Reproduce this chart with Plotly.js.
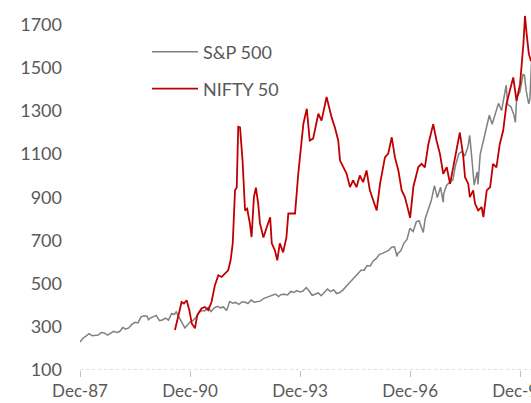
<!DOCTYPE html>
<html>
<head>
<meta charset="utf-8">
<script src="https://cdn.plot.ly/plotly-3.0.1.min.js"></script>
<style>
html,body{margin:0;padding:0;background:#fff;}
#chart{width:531px;height:403px;}
</style>
</head>
<body>
<div id="chart"></div>
<script>
// ---- Data ----
var spDates = ['1987-12-01','1987-12-31','1988-01-29','1988-02-29','1988-03-31','1988-04-29','1988-05-31','1988-06-30','1988-07-29','1988-08-31','1988-09-30','1988-10-31','1988-11-30','1988-12-30',
'1989-01-31','1989-02-28','1989-03-31','1989-04-28','1989-05-31','1989-06-30','1989-07-31','1989-08-31','1989-09-29','1989-10-13','1989-10-31','1989-11-30','1989-12-29',
'1990-01-31','1990-02-28','1990-03-30','1990-04-30','1990-05-31','1990-06-29','1990-07-16','1990-07-31','1990-08-31','1990-09-28','1990-10-11','1990-10-31','1990-11-30','1990-12-31',
'1991-01-31','1991-02-28','1991-03-28','1991-04-30','1991-05-31','1991-06-28','1991-07-31','1991-08-30','1991-09-30','1991-10-31','1991-11-29','1991-12-31',
'1992-01-31','1992-02-28','1992-03-31','1992-04-30','1992-05-29','1992-06-30','1992-07-31','1992-08-31','1992-09-30','1992-10-30','1992-11-30','1992-12-31',
'1993-01-29','1993-02-26','1993-03-31','1993-04-30','1993-05-28','1993-06-30','1993-07-30','1993-08-31','1993-09-30','1993-10-29','1993-11-30','1993-12-31',
'1994-01-31','1994-02-28','1994-03-31','1994-04-29','1994-05-31','1994-06-30','1994-07-29','1994-08-31','1994-09-30','1994-10-31','1994-11-30','1994-12-30',
'1995-01-31','1995-02-28','1995-03-31','1995-04-28','1995-05-31','1995-06-30','1995-07-31','1995-08-31','1995-09-29','1995-10-31','1995-11-30','1995-12-29',
'1996-01-31','1996-02-29','1996-03-29','1996-04-30','1996-05-31','1996-06-28','1996-07-24','1996-07-31','1996-08-30','1996-09-30','1996-10-31','1996-11-29','1996-12-31',
'1997-01-31','1997-02-28','1997-03-31','1997-04-11','1997-04-30','1997-05-30','1997-06-30','1997-07-31','1997-08-29','1997-09-30','1997-10-27','1997-10-31','1997-11-28','1997-12-31',
'1998-01-30','1998-02-27','1998-03-31','1998-04-30','1998-05-29','1998-06-30','1998-07-17','1998-07-31','1998-08-31','1998-09-30','1998-10-08','1998-10-30','1998-11-30','1998-12-31',
'1999-01-29','1999-02-26','1999-03-31','1999-04-30','1999-05-31','1999-06-30','1999-07-16','1999-07-30','1999-08-31','1999-09-30','1999-10-15','1999-10-29','1999-11-30','1999-12-31',
'2000-01-14','2000-01-31','2000-02-25','2000-03-08','2000-03-24','2000-03-31'];
var spValues = [230,247,257,268,259,261,262,274,272,262,272,279,274,278,
297,289,295,310,321,318,346,351,349,333,340,346,353,
329,332,340,331,361,358,369,356,323,306,295,304,322,330,
344,367,375,375,390,371,388,395,388,392,375,417,
409,413,404,415,415,408,424,414,418,419,431,436,
439,443,452,440,450,451,448,464,459,468,462,466,
482,467,446,451,457,444,458,475,463,472,454,459,
470,487,501,515,533,545,562,562,584,582,605,616,
636,640,646,654,669,671,626,640,652,687,705,757,741,
786,791,757,737,801,848,885,954,899,947,877,915,955,970,
980,1049,1102,1112,1091,1134,1187,1121,957,1017,959,1099,1164,1229,
1280,1238,1286,1335,1302,1373,1419,1329,1320,1283,1247,1363,1389,1469,
1465,1394,1333,1355,1527,1499];

var niftyDates = ['1990-07-04','1990-08-05','1990-09-08','1990-10-01','1990-10-28','1990-11-24','1990-12-18',
'1991-01-19','1991-02-11','1991-03-25','1991-04-27','1991-06-01','1991-07-03','1991-08-06','1991-09-09','1991-10-12','1991-11-13','1991-12-16',
'1992-01-09','1992-01-30','1992-02-22','1992-03-10','1992-03-25','1992-04-12','1992-05-07','1992-06-01','1992-06-22','1992-07-19','1992-08-05','1992-08-28','1992-09-17','1992-10-10','1992-10-27','1992-12-01',
'1993-01-03','1993-02-06','1993-02-22','1993-03-25','1993-04-18','1993-05-13','1993-06-15','1993-07-18','1993-08-06','1993-10-12','1993-11-13',
'1994-01-03','1994-02-06','1994-03-07','1994-04-10','1994-06-01','1994-07-03','1994-08-22','1994-10-12','1994-11-13','1994-12-16',
'1995-01-03','1995-02-06','1995-03-09','1995-04-12','1995-05-13','1995-06-16','1995-07-19','1995-08-21','1995-09-24','1995-10-27','1995-12-01',
'1996-01-03','1996-02-06','1996-03-25','1996-04-27','1996-06-01','1996-07-03','1996-08-06','1996-09-08','1996-10-10','1996-11-13','1996-12-01',
'1997-01-03','1997-02-21','1997-03-25','1997-04-27','1997-06-01','1997-07-19','1997-08-21','1997-09-24','1997-10-27','1997-12-01',
'1998-01-03','1998-02-21','1998-04-10','1998-05-13','1998-06-01','1998-07-03','1998-07-19','1998-08-21','1998-09-09','1998-10-10','1998-11-13','1998-12-01',
'1999-01-03','1999-02-06','1999-03-07','1999-04-10','1999-05-13','1999-06-16','1999-07-19','1999-08-21','1999-09-24','1999-10-27','1999-12-01',
'2000-01-03','2000-01-19','2000-02-05','2000-02-27','2000-03-20'];
var niftyValues = [285,346,415,408,423,377,316,
293,354,385,392,377,415,493,539,531,547,562,
608,685,932,945,1227,1224,1070,839,847,779,716,901,945,870,780,714,
761,807,687,654,608,687,645,714,825,825,1010,
1241,1310,1163,1172,1287,1255,1365,1269,1223,1163,
1070,1039,1010,947,978,947,1001,970,1024,932,885,
839,964,1085,1102,1178,1085,1024,932,901,839,805,
950,1040,1055,1039,1147,1239,1163,1101,1009,1039,
962,1085,1200,1095,993,962,901,932,870,839,855,808,
932,947,1055,1039,1147,1209,1333,1394,1455,1347,1424,
1609,1740,1655,1563,1530];

var seriesNames = ['S&P 500', 'NIFTY 50'];
var yTicks = [100,300,500,700,900,1100,1300,1500,1700];

// ---- Chart ----
var font = 'Lato, "Open Sans", sans-serif';
var txt = '#595959';

var traces = [
  {x: spDates, y: spValues, name: seriesNames[0], type: 'scatter', mode: 'lines',
   line: {color: '#808080', width: 1.5}, legend: 'legend'},
  {x: niftyDates, y: niftyValues, name: seriesNames[1], type: 'scatter', mode: 'lines',
   line: {color: '#C00000', width: 1.8}, legend: 'legend2'}
];

var layout = {
  width: 531, height: 403,
  margin: {l: 80, r: 0, t: 3, b: 33},
  paper_bgcolor: '#fff', plot_bgcolor: '#fff',
  font: {family: font, size: 18, color: txt},
  showlegend: true,
  legend: {x: 0.1486, y: 0.8665, xanchor: 'left', yanchor: 'middle', bgcolor: 'rgba(0,0,0,0)',
           font: {family: font, size: 18, color: txt}, itemwidth: 46},
  legend2: {x: 0.1486, y: 0.7657, xanchor: 'left', yanchor: 'middle', bgcolor: 'rgba(0,0,0,0)',
           font: {family: font, size: 18, color: txt}, itemwidth: 46},
  xaxis: {
    type: 'date', range: ['1987-12-01', '2000-03-19'],
    tick0: '1987-12-01', dtick: 'M36', tickformat: '%b-%y',
    showgrid: false, zeroline: false, showline: false,
    ticks: 'outside', ticklen: 6, tickwidth: 1, tickcolor: '#BFBFBF',
    ticklabelstandoff: 0, ticklabeloverflow: 'allow',
    tickfont: {family: font, size: 17, color: txt}, fixedrange: true
  },
  yaxis: {
    range: [100, 1800], tickvals: yTicks, ticktext: yTicks.map(String),
    showgrid: false, zeroline: false, showline: false, ticks: '',
    ticklabelstandoff: 17,
    tickfont: {family: font, size: 18, color: txt}, fixedrange: true
  },
  shapes: [{type: 'line', xref: 'paper', x0: 0, x1: 1, yref: 'y', y0: 100, y1: 100,
            line: {color: '#BFBFBF', width: 1, dash: 'dot'}, layer: 'below'}]
};

Plotly.newPlot('chart', traces, layout, {displayModeBar: false, staticPlot: true});
</script>
</body>
</html>
